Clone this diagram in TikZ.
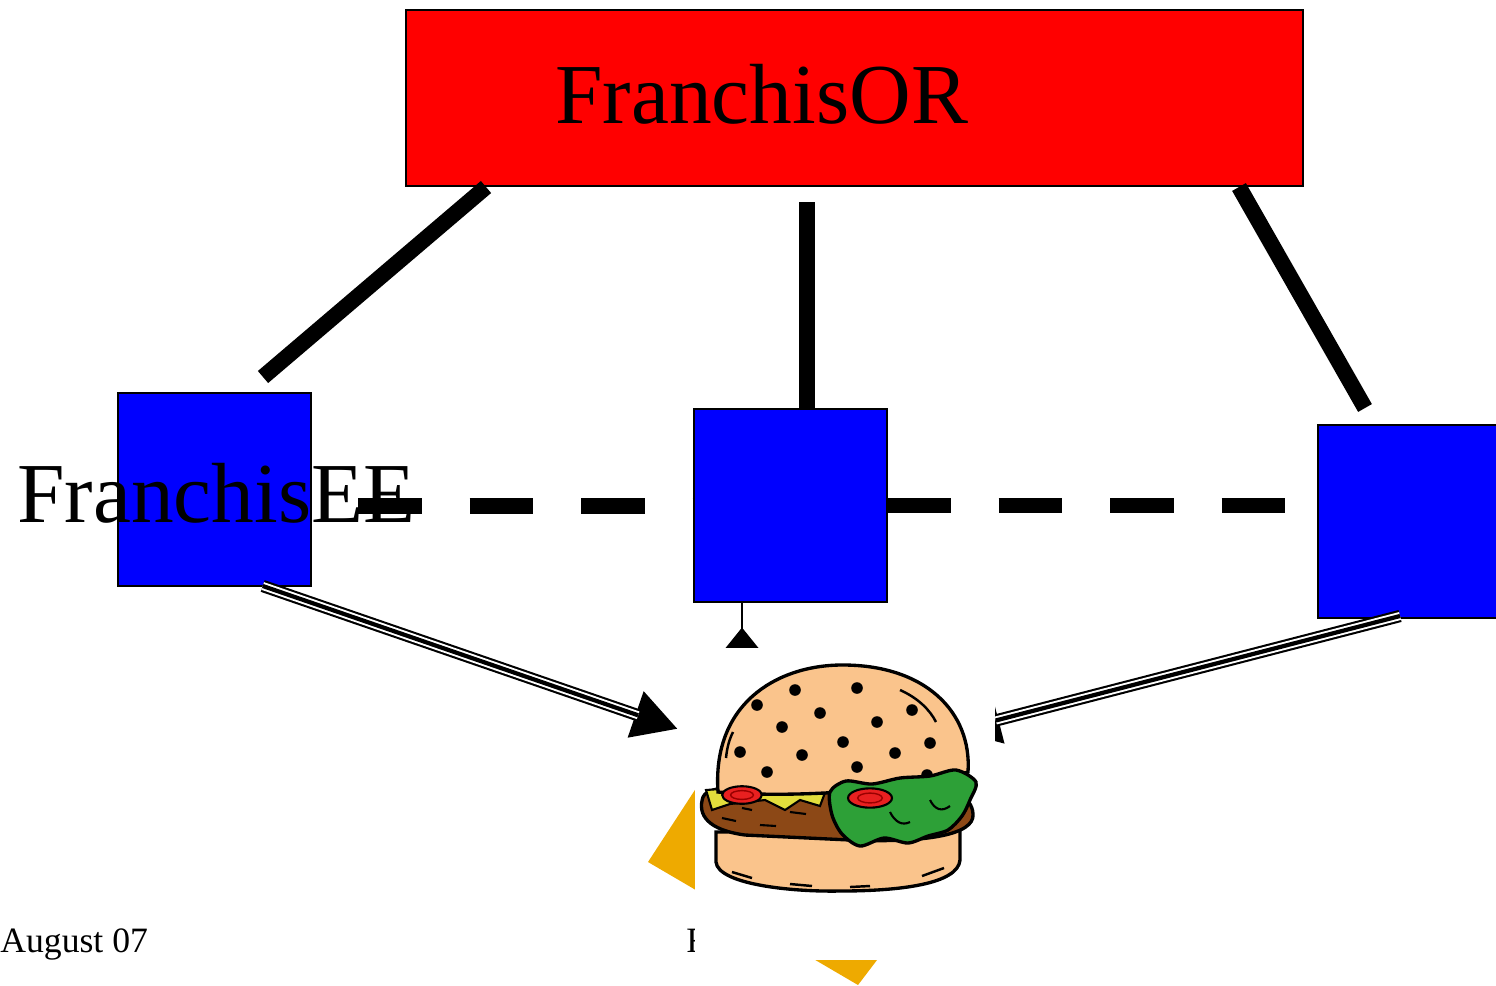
\documentclass[tikz,border=0pt]{standalone}
\usepackage{fontspec}
\setmainfont{Liberation Serif}
\usepackage{xcolor}
\usetikzlibrary{arrows.meta, calc, positioning}

\definecolor{laranja}{RGB}{238,170,0}
\definecolor{pao}{RGB}{250,196,140}
\definecolor{carne}{RGB}{140,72,22}
\definecolor{alface}{RGB}{45,160,55}
\definecolor{queijo}{RGB}{226,222,60}
\definecolor{tomate}{RGB}{232,32,32}

\begin{document}
\begin{tikzpicture}[x=0.02cm, y=-0.02cm,
  franqueado/.style={draw=black, line width=1.2pt, fill=blue, minimum width=3.86cm, minimum height=3.86cm, inner sep=0pt, outer sep=0pt},
  ligacao/.style={line width=9pt},
  tracejado/.style={line width=9pt, dash pattern=on 36.3pt off 27.2pt},
  entrega/.style={line width=7pt, -{Triangle[length=25.5pt, width=26pt]},
    postaction={draw=white, line width=4.6pt, -, shorten >=24pt},
    postaction={draw=black, line width=2.4pt, -, shorten >=24pt}},
  rotulo/.style={anchor=base west, inner sep=0pt, font=\fontsize{48.6}{58}\selectfont}]

\useasboundingbox (0,0) rectangle (1496,985);

% Franqueador
\node[draw=black, line width=1.2pt, fill=red, minimum width=17.94cm, minimum height=3.52cm, inner sep=0pt, outer sep=0pt] (franqueador) at (854.5,98) {};
\node[rotulo] (titulo) at (555,123) {FranchisOR};

% Franqueados
\node[franqueado] (fe1) at (214.5,489.5) {};
\node[franqueado] (fe2) at (790.5,505.5) {};
\node[franqueado] (fe3) at (1414.5,521.5) {};

% Ligacoes com o franqueador
\coordinate (l1a) at (486,187);
\coordinate (l1b) at (263,377);
\coordinate (l2a) at (807,202);
\coordinate (l3a) at (1239,187);
\coordinate (l3b) at (1365,408);
\draw[ligacao] (l1a) -- (l1b);
\draw[ligacao] (l2a) -- (l2a |- fe2.north);
\draw[ligacao] (l3a) -- (l3b);

% Nome dos franqueados
\node[rotulo] (nome) at (17,522) {FranchisEE};

% Linha tracejada entre franqueados
\coordinate (t0) at (358,506);
\draw[tracejado] (t0) -- (t0 -| fe2.west);
\draw[tracejado] (fe2.east) -- (fe2.east -| fe3.west);

% Setas ate o lanche
\coordinate (sL) at ($(fe1.south west)!0.75!(fe1.south east)$);
\coordinate (hL) at (678,729);
\coordinate (sR) at ($(fe3.south west)+(82,-2)$);
\coordinate (hR) at (955,731);
\coordinate (hM) at (742,682);
\draw[entrega] (sL) -- (hL);
\draw[entrega] (sR) -- (hR);
\draw[line width=0.85pt, -{Diamond[length=31pt, width=25pt, line join=miter]}] (hM |- fe2.south) -- (hM);

% Fundo laranja
\fill[laranja] (648,862) -- (760,690) -- (950,864) -- (858,985) -- cycle;

% Rodape
\node[anchor=base west, inner sep=0pt, font=\fontsize{20.3}{24}\selectfont] (data) at (0,952) {August 07};
\node[anchor=base west, inner sep=0pt, font=\fontsize{20.3}{24}\selectfont] (rodape) at (686,952) {F};

% Lanche
\node[fill=white, minimum width=6cm, minimum height=6.24cm, inner sep=0pt, outer sep=0pt] (lanche) at (845,804) {};

% pao de baixo
\filldraw[fill=pao, line width=1.9pt] (716,832) -- (716,862) .. controls (718,884) and (790,892) .. (840,891)
  .. controls (900,891) and (958,884) .. (960,860) -- (960,828) -- cycle;
\draw[line width=1.4pt] (732,872) -- (752,878) (790,884) -- (812,886) (850,887) -- (870,886) (922,876) -- (944,868);

% carne
\filldraw[fill=carne, line width=1.9pt] (703,797) .. controls (697,815) and (708,830) .. (745,835) -- (850,840)
  .. controls (925,843) and (975,835) .. (973,814) .. controls (972,795) and (950,786) .. (905,786)
  -- (760,786) .. controls (725,786) and (706,789) .. (703,797) -- cycle;
\draw[line width=1.2pt] (722,818) -- (736,821) (760,825) -- (776,826) (790,812) -- (806,814) (742,808) -- (752,810);

% queijo
\filldraw[fill=queijo, line width=1.2pt] (706,790) -- (760,786) -- (826,790) -- (820,806) -- (800,800)
  -- (785,810) -- (765,800) -- (730,804) -- (712,810) -- cycle;

% pao de cima
\filldraw[fill=pao, line width=1.9pt] (718,792) .. controls (712,705) and (775,666) .. (840,665)
  .. controls (925,664) and (972,712) .. (968,772) .. controls (900,792) and (790,798) .. (718,792) -- cycle;
\draw[line width=1.4pt] (900,690) .. controls (918,698) and (930,710) .. (936,722);
\draw[line width=1.4pt] (726,758) .. controls (727,748) and (729,740) .. (733,732);
\foreach \x/\y in {795/690, 857/688, 757/705, 820/713, 912/710, 782/727, 877/722, 843/742,
  930/743, 740/752, 802/755, 895/753, 767/772, 857/767, 927/775}
  \fill (\x,\y) circle[radius=3.3pt];

% tomate esquerdo
\filldraw[fill=tomate, line width=1.2pt] (742,795) ellipse[x radius=11.3pt, y radius=5pt];
\draw[red!60!black, line width=0.8pt] (742,795) ellipse[x radius=6.5pt, y radius=2.5pt];

% alface
\filldraw[fill=alface, line width=1.9pt] plot[smooth cycle] coordinates {(830,792) (846,781) (872,784)
  (900,778) (930,776) (956,770) (976,782) (970,800) (962,816) (948,830) (928,836) (908,843)
  (884,838) (860,846) (842,834) (832,815)};
\draw[line width=1.2pt] (890,812) .. controls (895,822) and (902,826) .. (910,822)
  (930,800) .. controls (935,810) and (942,812) .. (950,806);

% tomate direito
\filldraw[fill=tomate, line width=1.2pt] (870,798) ellipse[x radius=12.5pt, y radius=5.5pt];
\draw[red!60!black, line width=0.8pt] (870,798) ellipse[x radius=7pt, y radius=2.8pt];

\end{tikzpicture}
\end{document}
